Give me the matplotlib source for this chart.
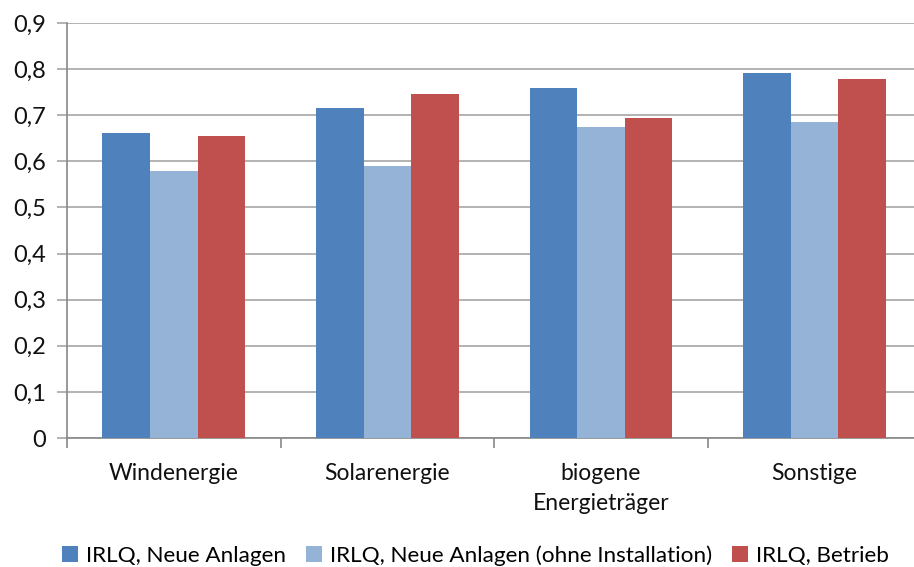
import numpy as np
import matplotlib
matplotlib.use("Agg")
import matplotlib.pyplot as plt
from matplotlib.ticker import FuncFormatter, FixedLocator

plt.rcParams['font.family'] = ['Lato', 'DejaVu Sans']

categories = ["Windenergie", "Solarenergie", "biogene\nEnergieträger", "Sonstige"]
series_names = ["IRLQ, Neue Anlagen",
                "IRLQ, Neue Anlagen (ohne Installation)",
                "IRLQ, Betrieb"]
neue = [0.661, 0.716, 0.758, 0.792]
neue_ohne = [0.580, 0.589, 0.674, 0.686]
betrieb = [0.656, 0.746, 0.693, 0.779]
colors = ["#4F81BD", "#95B3D7", "#C0504D"]
yticks = [0, 0.1, 0.2, 0.3, 0.4, 0.5, 0.6, 0.7, 0.8, 0.9]

fig = plt.figure(figsize=(9.14, 5.67), dpi=100)
ax = fig.add_axes([0.0733, 0.2275, 0.9344, 0.7319])

x = np.arange(len(categories))
w = 0.2225
for i, (vals, c, name) in enumerate(zip([neue, neue_ohne, betrieb], colors, series_names)):
    ax.bar(x + (i - 1) * w, vals, width=w, color=c, label=name, zorder=3)

ax.set_xlim(-0.5, len(categories) - 0.5)
ax.set_ylim(0, 0.9)
ax.set_yticks(yticks)
ax.yaxis.set_major_formatter(FuncFormatter(lambda v, p: ("%g" % round(v, 1)).replace(".", ",")))
ax.grid(axis="y", color="#A6A6A6", linewidth=1.2, zorder=0)

ax.xaxis.set_major_locator(FixedLocator(np.arange(-0.5, len(categories), 1.0)))
ax.set_xticklabels([])
ax.set_xticks(x, minor=True)
ax.set_xticklabels(categories, minor=True, fontsize=16.5, color="#111111", linespacing=1.5)
ax.tick_params(axis="x", which="minor", length=0, pad=18)
ax.tick_params(axis="x", which="major", length=7, color="#888888", width=1.2)
ax.tick_params(axis="y", length=7, color="#A6A6A6", width=1.2, labelsize=17, pad=8, labelcolor="#111111")

for s in ["top", "right"]:
    ax.spines[s].set_visible(False)
for s in ["left", "bottom"]:
    ax.spines[s].set_color("#888888")
    ax.spines[s].set_linewidth(1.2)

fig.legend(loc="lower center", bbox_to_anchor=(0.52, -0.034), ncol=3, frameon=False,
           fontsize=16.2, handlelength=0.7, handleheight=0.7, handletextpad=0.35,
           columnspacing=0.9)

fig.savefig("out.png", dpi=100)
